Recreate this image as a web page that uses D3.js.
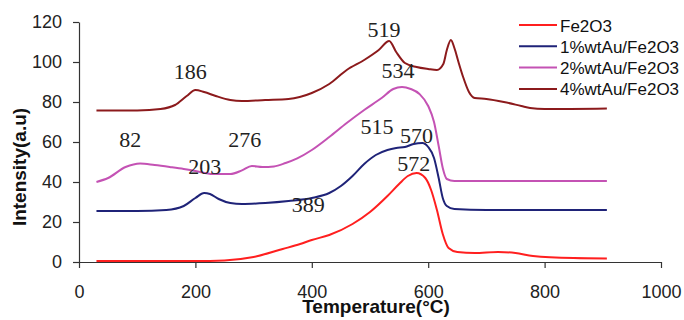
<!DOCTYPE html>
<html>
<head>
<meta charset="utf-8">
<script src="https://cdn.jsdelivr.net/npm/d3@7"></script>
<style>
  body { margin: 0; background: #fff; }
  svg text { font-family: "Liberation Sans", Arial, sans-serif; }
</style>
</head>
<body>
<div id="chart"></div>
<script>
// TPR curves (temperature in C, intensity in a.u.)
var fe2o3Temp = [30, 100, 200, 250, 300, 350, 380, 400, 430, 470, 500, 530, 550, 565, 580, 595, 605, 615, 625, 635, 650, 680, 720, 750, 780, 850, 907];
var fe2o3Int  = [0.5, 0.5, 0.5, 0.8, 2.5, 6.5, 9, 11, 13.5, 19, 25, 33, 39, 43, 44.5, 42, 36, 26, 14, 7, 5, 4.5, 5, 4.5, 3, 2, 1.8];

var au1Temp = [30, 100, 150, 180, 200, 215, 225, 240, 260, 280, 320, 360, 400, 430, 450, 470, 490, 510, 530, 545, 560, 575, 590, 600, 610, 618, 625, 632, 645, 700, 800, 907];
var au1Int  = [25.5, 25.5, 26, 28, 32, 34.5, 34, 31.5, 29.5, 29, 29.5, 30.5, 32, 34.5, 38, 43, 49, 53.5, 56, 57, 57.5, 59, 59.5, 57.5, 52, 42, 32, 28, 26.5, 26, 26, 26];

var au2Temp = [30, 50, 80, 105, 130, 156, 180, 200, 230, 260, 280, 297, 315, 335, 355, 375, 400, 430, 460, 490, 520, 540, 555, 570, 585, 600, 610, 618, 625, 632, 645, 907];
var au2Int  = [40, 42, 47.5, 49.3, 48.5, 47.5, 46.5, 45.5, 44, 44, 45.8, 48, 47.5, 47.8, 49.5, 51.8, 56, 62.5, 69.5, 76, 82, 86.5, 87.5, 86.5, 84, 78, 70, 58, 47, 41.5, 40.5, 40.5];

var au4Temp = [30, 100, 140, 165, 185, 200, 215, 235, 260, 280, 320, 360, 400, 430, 460, 490, 515, 533, 545, 560, 580, 600, 615, 626, 632, 639, 645, 652, 660, 670, 680, 700, 730, 760, 775, 800, 907];
var au4Int  = [75.7, 75.8, 76.5, 78.5, 83, 86, 85, 83, 81, 80.5, 81, 81.5, 84.5, 89, 96, 101, 106, 110.5, 105, 99.5, 97.5, 96.5, 96, 99, 106, 111, 107, 100, 92.5, 85, 82, 81.5, 80, 78, 77, 76.5, 76.8];

var seriesNames = ["Fe2O3", "1%wtAu/Fe2O3", "2%wtAu/Fe2O3", "4%wtAu/Fe2O3"];
var seriesColors = ["#ff1f1f", "#1f2378", "#c452b4", "#8c1a1c"];

var xTicks = [0, 200, 400, 600, 800, 1000];
var yTicks = [0, 20, 40, 60, 80, 100, 120];

// peak labels: [temperature label, x position in C, y position in a.u.]
var peakLabels = ["186", "519", "534", "82", "276", "203", "515", "570", "572", "389"];
var peakX = [191, 524, 548, 88, 285, 216, 512, 580, 575, 394];
var peakY = [91.5, 112.5, 92, 57.5, 57.5, 44, 64, 59.5, 45.5, 25];

var svgWidth = 684;
var svgHeight = 320;

var svg = d3.select("#chart")
  .append("svg")
  .attr("width", svgWidth)
  .attr("height", svgHeight);

var xScale = d3.scaleLinear().domain([0, 1000]).range([79, 661]);
var yScale = d3.scaleLinear().domain([0, 120]).range([262, 22]);

// axes
var xAxis = d3.axisBottom(xScale).tickValues(xTicks).tickFormat(d3.format("d"))
  .tickSize(6).tickSizeOuter(0).tickPadding(17);
var yAxis = d3.axisLeft(yScale).tickValues(yTicks).tickFormat(d3.format("d"))
  .tickSize(6).tickSizeOuter(0).tickPadding(11);

var gx = svg.append("g")
  .attr("transform", "translate(0," + yScale(0) + ")")
  .call(xAxis);

var gy = svg.append("g")
  .attr("transform", "translate(" + xScale(0) + ",0)")
  .call(yAxis);

[gx, gy].forEach(function(g) {
  g.selectAll("path, line").attr("stroke", "#333").attr("stroke-width", 1.2);
  g.selectAll("text")
    .attr("fill", "#222")
    .style("font-size", "18px")
    .style("font-family", "'Liberation Sans', Arial, sans-serif");
});

// axis titles
svg.append("text")
  .attr("x", 376)
  .attr("y", 313)
  .attr("text-anchor", "middle")
  .style("font-size", "19px")
  .style("font-weight", "bold")
  .attr("fill", "#111")
  .text("Temperature(°C)");

svg.append("text")
  .attr("transform", "translate(26,167) rotate(-90)")
  .attr("text-anchor", "middle")
  .style("font-size", "19px")
  .style("font-weight", "bold")
  .attr("fill", "#111")
  .text("Intensity(a.u)");

// curves
var allTemps = [fe2o3Temp, au1Temp, au2Temp, au4Temp];
var allInts = [fe2o3Int, au1Int, au2Int, au4Int];

var line = d3.line()
  .x(d => xScale(d[0]))
  .y(d => yScale(d[1]))
  .curve(d3.curveMonotoneX);

allTemps.forEach(function(temps, i) {
  var pts = temps.map((t, j) => [t, allInts[i][j]]);
  svg.append("path")
    .datum(pts)
    .attr("fill", "none")
    .attr("stroke", seriesColors[i])
    .attr("stroke-width", 2)
    .attr("d", line);
});

// peak labels
svg.selectAll(".peak")
  .data(peakLabels)
  .enter()
  .append("text")
  .attr("class", "peak")
  .attr("x", (d, i) => xScale(peakX[i]))
  .attr("y", (d, i) => yScale(peakY[i]))
  .attr("text-anchor", "middle")
  .style("font-family", "'Liberation Serif', 'Times New Roman', serif")
  .style("font-size", "22px")
  .attr("fill", "#222")
  .text(d => d);

// legend
var legend = svg.append("g");
seriesNames.forEach(function(name, i) {
  var ly = 25 + i * 21.3;
  legend.append("line")
    .attr("x1", 519).attr("x2", 557)
    .attr("y1", ly).attr("y2", ly)
    .attr("stroke", seriesColors[i])
    .attr("stroke-width", 2);
  legend.append("text")
    .attr("x", 560)
    .attr("y", ly + 6.5)
    .style("font-size", "17px")
    .attr("fill", "#111")
    .text(name);
});
</script>
</body>
</html>
